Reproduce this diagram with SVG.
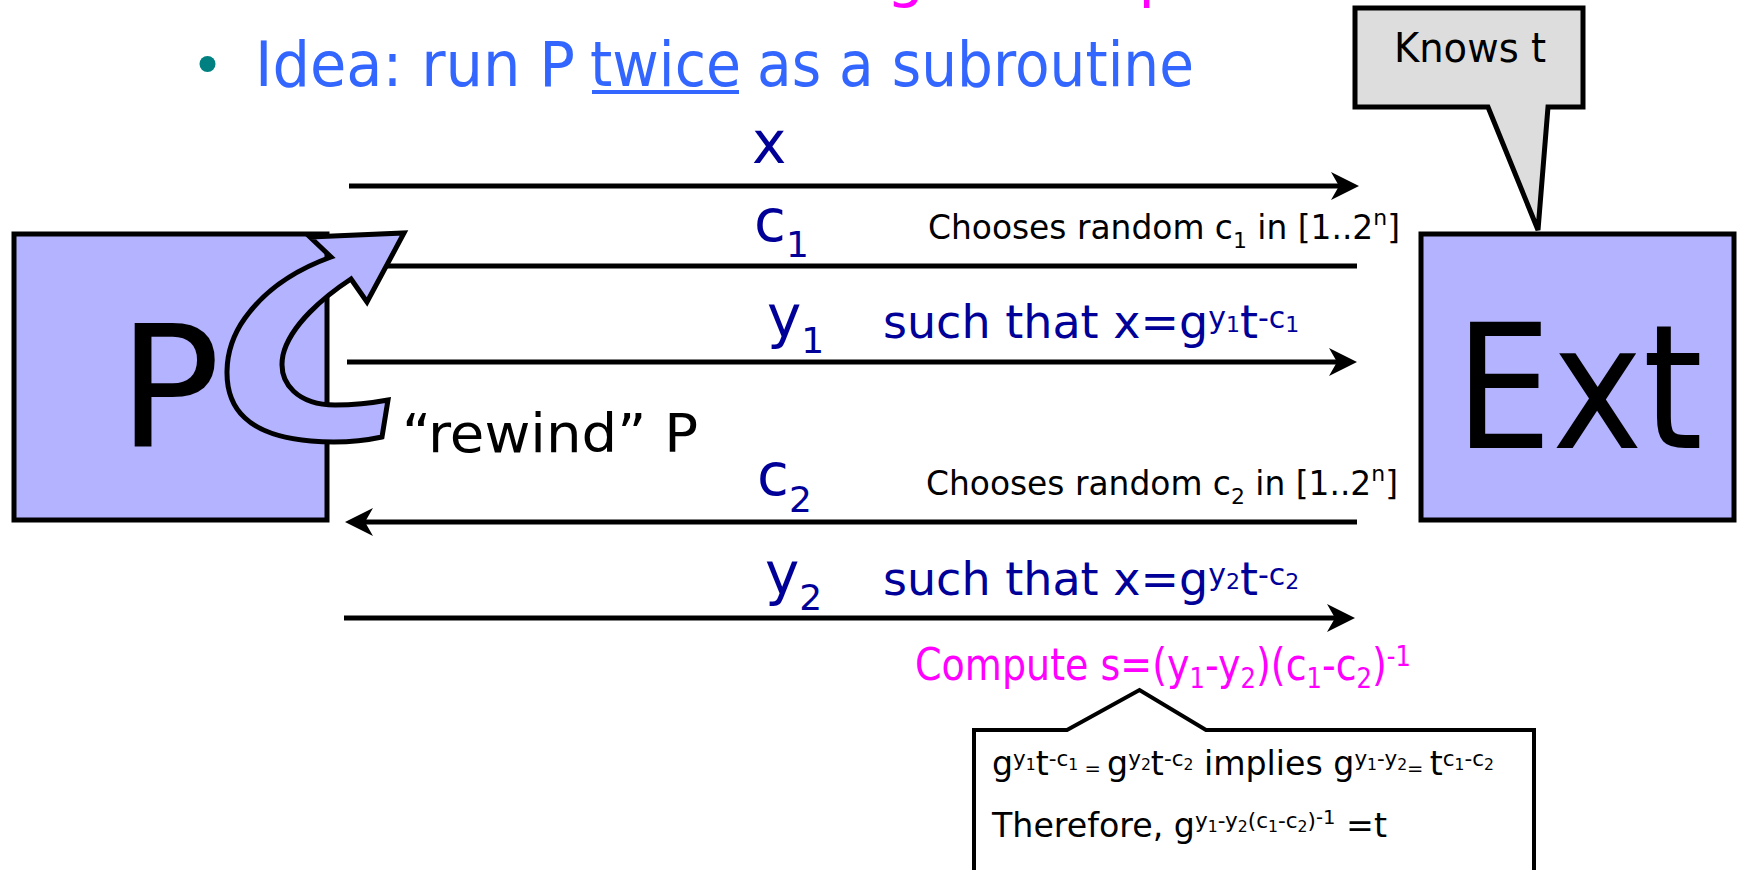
<svg xmlns="http://www.w3.org/2000/svg" width="1737" height="870" viewBox="0 0 1737 870">
  <style>
    .sans { font-family: "DejaVu Sans", "Liberation Sans", sans-serif; }
    .box { fill: #b3b3ff; stroke: #000; stroke-width: 5; }
    .wire { fill: none; stroke: #000; stroke-width: 5; }
    .lbl { fill: #000099; }
    .blk { fill: #000; }
  </style>
  <defs>
    <marker id="ah" markerUnits="userSpaceOnUse" markerWidth="28" markerHeight="28" viewBox="0 0 28 28" refX="8" refY="14" orient="auto">
      <path d="M28,14 L0,0 L8,14 L0,28 Z" fill="#000"/>
    </marker>
  </defs>

  <rect width="1737" height="870" fill="#fff"/>

  <!-- slide heading (only the descenders fall inside the frame) -->
  <g id="heading" class="sans" fill="#ff00ff" font-size="60">
    <text x="886.5" y="-5">g</text>
    <text x="1138.5" y="-5">p</text>
  </g>

  <!-- bullet line -->
  <g id="bullet" class="sans" fill="#3366ff" font-size="63">
    <circle cx="207.5" cy="64" r="8" fill="#008080"/>
    <text x="255" y="86" textLength="320" lengthAdjust="spacingAndGlyphs">Idea: run P</text>
    <text x="590" y="86" textLength="151" lengthAdjust="spacingAndGlyphs">twice</text>
    <rect x="592" y="90" width="147" height="4"/>
    <text x="757" y="86" textLength="437" lengthAdjust="spacingAndGlyphs">as a subroutine</text>
  </g>

  <!-- prover -->
  <g id="node-P">
    <rect class="box" x="14" y="234" width="313" height="286"/>
    <text class="sans blk" x="118" y="447" font-size="170">P</text>
  </g>

  <!-- extractor -->
  <g id="node-Ext">
    <rect class="box" x="1421" y="234" width="313" height="286"/>
    <text class="sans blk" x="1579" y="448" font-size="173" text-anchor="middle" textLength="248" lengthAdjust="spacingAndGlyphs">Ext</text>
  </g>

  <!-- speech bubble above the extractor -->
  <g id="node-knows">
    <path d="M1355,8 L1583,8 L1583,107 L1548,107 L1538,230 L1488,107 L1355,107 Z" fill="#dddddd" stroke="#000" stroke-width="5" stroke-linejoin="miter"/>
    <text class="sans blk" x="1394" y="62" font-size="41" textLength="152" lengthAdjust="spacingAndGlyphs">Knows t</text>
  </g>

  <!-- messages -->
  <g id="connectors">
    <path class="wire" d="M349,186 H1339" marker-end="url(#ah)"/>
    <path class="wire" d="M385,266 H1357"/>
    <path class="wire" d="M347,362 H1337" marker-end="url(#ah)"/>
    <path class="wire" d="M1357,522 H365" marker-end="url(#ah)"/>
    <path class="wire" d="M344,618 H1335" marker-end="url(#ah)"/>
  </g>

  <!-- message labels -->
  <g id="labels" class="sans">
    <text class="lbl" x="752" y="163" font-size="58">x</text>

    <text class="lbl" x="754" y="241" font-size="58">c<tspan font-size="36" dy="16">1</tspan></text>
    <text class="blk" x="928" y="239" font-size="33" textLength="472" lengthAdjust="spacingAndGlyphs">Chooses random c<tspan font-size="22" dy="9">1</tspan><tspan dy="-9"> in [1..2</tspan><tspan font-size="22" dy="-14">n</tspan><tspan dy="14">]</tspan></text>

    <text class="lbl" x="767" y="337" font-size="58">y<tspan font-size="36" dy="16">1</tspan></text>
    <text class="lbl" x="883" y="338" font-size="46">such that x=g<tspan font-size="30" dy="-10">y</tspan><tspan font-size="22" dy="4">1</tspan><tspan dy="6">t</tspan><tspan font-size="30" dy="-10">-c</tspan><tspan font-size="22" dy="4">1</tspan></text>

    <text class="lbl" x="757" y="495" font-size="58">c<tspan font-size="36" dy="17">2</tspan></text>
    <text class="blk" x="926" y="495" font-size="33" textLength="472" lengthAdjust="spacingAndGlyphs">Chooses random c<tspan font-size="22" dy="9">2</tspan><tspan dy="-9"> in [1..2</tspan><tspan font-size="22" dy="-14">n</tspan><tspan dy="14">]</tspan></text>

    <text class="lbl" x="765" y="594" font-size="58">y<tspan font-size="36" dy="16">2</tspan></text>
    <text class="lbl" x="883" y="595" font-size="46">such that x=g<tspan font-size="30" dy="-10">y</tspan><tspan font-size="22" dy="4">2</tspan><tspan dy="6">t</tspan><tspan font-size="30" dy="-10">-c</tspan><tspan font-size="22" dy="4">2</tspan></text>

    <text x="915" y="680" font-size="44" fill="#ff00ff" textLength="496" lengthAdjust="spacingAndGlyphs">Compute s=(y<tspan font-size="28" dy="8">1</tspan><tspan dy="-8">-y</tspan><tspan font-size="28" dy="8">2</tspan><tspan dy="-8">)(c</tspan><tspan font-size="28" dy="8">1</tspan><tspan dy="-8">-c</tspan><tspan font-size="28" dy="8">2</tspan><tspan dy="-8">)</tspan><tspan font-size="28" dy="-14">-1</tspan></text>
  </g>

  <!-- rewind arrow -->
  <g id="rewind">
    <path d="M388,400 L382,437 C345,445 275,446 245,418 C220,395 222,350 245,318 C265,290 295,270 331,257 L310,237 L404,233 L367,302 L351,279 C325,296 290,325 283,355 C277,385 300,405 335,405 C355,405 372,403 388,400 Z" fill="#b3b3ff" stroke="#000" stroke-width="5" stroke-linejoin="miter"/>
    <text class="sans blk" x="402" y="452" font-size="54" textLength="296" lengthAdjust="spacingAndGlyphs">“rewind” P</text>
  </g>

  <!-- derivation note -->
  <g id="node-note" class="sans">
    <path d="M974,875 L974,730 L1067,730 L1139.5,690 L1206,730 L1534,730 L1534,875" fill="#fff" stroke="#000" stroke-width="4"/>
    <text class="blk" x="992" y="775" font-size="34" textLength="502" lengthAdjust="spacingAndGlyphs">g<tspan font-size="22" dy="-9">y</tspan><tspan font-size="16" dy="4">1</tspan><tspan dy="5">t</tspan><tspan font-size="22" dy="-9">-c</tspan><tspan font-size="16" dy="4">1</tspan><tspan font-size="20" dy="5"> = </tspan>g<tspan font-size="22" dy="-9">y</tspan><tspan font-size="16" dy="4">2</tspan><tspan dy="5">t</tspan><tspan font-size="22" dy="-9">-c</tspan><tspan font-size="16" dy="4">2</tspan><tspan dy="5"> implies g</tspan><tspan font-size="22" dy="-9">y</tspan><tspan font-size="16" dy="4">1</tspan><tspan font-size="22" dy="-4">-y</tspan><tspan font-size="16" dy="4">2</tspan><tspan font-size="20" dy="5">= </tspan>t<tspan font-size="22" dy="-9">c</tspan><tspan font-size="16" dy="4">1</tspan><tspan font-size="22" dy="-4">-c</tspan><tspan font-size="16" dy="4">2</tspan></text>
    <text class="blk" x="992" y="837" font-size="34" textLength="395" lengthAdjust="spacingAndGlyphs">Therefore, g<tspan font-size="22" dy="-9">y</tspan><tspan font-size="16" dy="4">1</tspan><tspan font-size="22" dy="-4">-y</tspan><tspan font-size="16" dy="4">2</tspan><tspan font-size="22" dy="-4">(c</tspan><tspan font-size="16" dy="4">1</tspan><tspan font-size="22" dy="-4">-c</tspan><tspan font-size="16" dy="4">2</tspan><tspan font-size="22" dy="-4">)</tspan><tspan font-size="20" dy="-4">-1</tspan><tspan dy="13"> =t</tspan></text>
  </g>
</svg>
